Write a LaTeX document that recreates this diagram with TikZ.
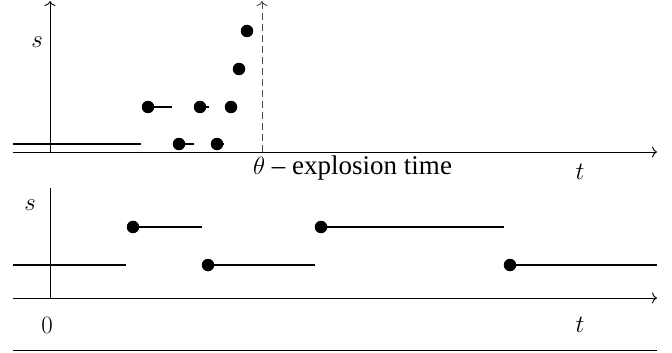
\documentclass[tikz,border=0pt]{standalone}
\usepackage{fontspec}
\setmainfont{Liberation Serif}
\usetikzlibrary{arrows.meta}
\begin{document}
\begin{tikzpicture}[x=1pt,y=-1pt,
  axis/.style={line width=0.9pt,-{To[length=5pt,width=11pt]}},
  stepline/.style={line width=2pt},
  dot/.style={circle,fill=black,inner sep=0pt,minimum size=12.5pt},
  lbl/.style={font=\fontsize{27}{32}\selectfont,inner sep=0pt}]
\useasboundingbox (0,0) rectangle (672,353);
% ---- top panel
\coordinate (ax1l) at (13,152);
\coordinate (ax1r) at (657,152);
\coordinate (o1) at (50,152);
\coordinate (ay1) at (50,1);
\coordinate (th) at (262,152);
\coordinate (tht) at (262,1);
\draw[axis] (ax1l) -- (ax1r);
\draw[axis] (o1) -- (ay1);
\draw[axis,dashed,dash pattern=on 7pt off 4pt,draw=black!70] (th) -- (tht);
\coordinate (a0) at (13,144);
\coordinate (a0e) at (141,144);
\draw[stepline] (a0) -- (a0e);
\node[dot] (d1) at (148,107) {};
\coordinate (d1e) at (172,107);
\draw[stepline] (d1.center) -- (d1e);
\node[dot] (d2) at (179,144) {};
\coordinate (d2e) at (194,144);
\draw[stepline] (d2.center) -- (d2e);
\node[dot] (d3) at (200,107) {};
\coordinate (d3e) at (209,107);
\draw[stepline] (d3.center) -- (d3e);
\node[dot] (d4) at (217,144) {};
\coordinate (d4e) at (224,144);
\draw[stepline] (d4.center) -- (d4e);
\node[dot] (d5) at (231,107) {};
\node[dot] (d6) at (239,69) {};
\node[dot] (d7) at (247,31) {};
\node[lbl] (s1) at (37,42) {$s$};
\node[lbl,anchor=west] (expl) at (253,168) {$\theta$ -- explosion time};
\node[lbl] (t1) at (580,172) {$t$};
% ---- bottom panel
\coordinate (ax2l) at (13,298);
\coordinate (ax2r) at (657,298);
\coordinate (o2) at (50,298);
\coordinate (ay2) at (50,188);
\draw[axis] (ax2l) -- (ax2r);
\draw[line width=0.9pt] (o2) -- (ay2);
\coordinate (b0) at (13,265);
\coordinate (b0e) at (126,265);
\draw[stepline] (b0) -- (b0e);
\node[dot] (e1) at (133,227) {};
\coordinate (e1e) at (202,227);
\draw[stepline] (e1.center) -- (e1e);
\node[dot] (e2) at (208,265) {};
\coordinate (e2e) at (315,265);
\draw[stepline] (e2.center) -- (e2e);
\node[dot] (e3) at (321,227) {};
\coordinate (e3e) at (504,227);
\draw[stepline] (e3.center) -- (e3e);
\node[dot] (e4) at (510,265) {};
\coordinate (e4e) at (657,265);
\draw[stepline] (e4.center) -- (e4e);
\node[lbl] (s2) at (30,205) {$s$};
\node[lbl] (zero) at (47,325) {$0$};
\node[lbl] (t2) at (580,325) {$t$};
\coordinate (ul) at (13,350);
\coordinate (ur) at (657,350);
\draw[line width=0.9pt] (ul) -- (ur);
\end{tikzpicture}
\end{document}
